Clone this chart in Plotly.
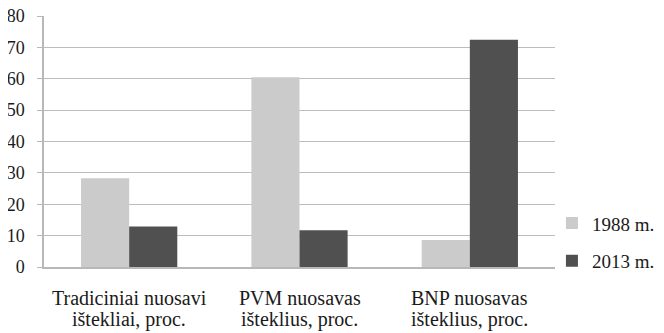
import plotly.graph_objects as go

categories = ["Tradiciniai nuosavi<br>ištekliai, proc.",
              "PVM nuosavas<br>išteklius, proc.",
              "BNP nuosavas<br>išteklius, proc."]
series_names = ["1988 m.", "2013 m."]
values_1988 = [28.3, 60.5, 8.6]
values_2013 = [12.9, 11.7, 72.4]
y_ticks = [0, 10, 20, 30, 40, 50, 60, 70, 80]

FONT = "Liberation Serif, Times New Roman, serif"
TXT = "#1a1a1a"

fig = go.Figure()
fig.add_trace(go.Bar(x=categories, y=values_1988, name=series_names[0],
                     marker=dict(color="#cbcbcb", line=dict(width=0)),
                     legendgroup="a"))
fig.add_trace(go.Bar(x=categories, y=values_2013, name=series_names[1],
                     marker=dict(color="#505050", line=dict(width=0)),
                     legendgroup="b"))

# category labels: two lines each, tighter line spacing than Plotly's default
annotations = []
for cat in categories:
    for i, line in enumerate(cat.split("<br>")):
        annotations.append(dict(
            x=cat, xref="x", y=0, yref="paper", yanchor="top",
            yshift=-18 - 21 * i, text=line, showarrow=False,
            font=dict(family=FONT, size=20, color=TXT)))

# the page body adds an 8px offset, so the figure is 8px smaller
fig.update_layout(
    width=656, height=325,
    margin=dict(l=36, r=109, t=8, b=66, autoexpand=False),
    paper_bgcolor="white", plot_bgcolor="white",
    font=dict(family=FONT, size=18, color=TXT),
    barmode="group", bargap=0.435, bargroupgap=0,
    showlegend=True,
    legend=dict(x=0.994, xanchor="left", y=0.25, yanchor="top",
                font=dict(family=FONT, size=19, color=TXT),
                tracegroupgap=10, itemwidth=30,
                bgcolor="rgba(0,0,0,0)"),
    annotations=annotations,
    xaxis=dict(showline=True, linecolor="#b8b8b8", linewidth=1.5,
               ticks="", showgrid=False, showticklabels=False,
               automargin=False),
    yaxis=dict(range=[0, 80], tickvals=y_ticks, showline=True,
               linecolor="#b8b8b8", linewidth=1.5,
               ticks="outside", ticklen=5, tickcolor="#b8b8b8",
               showgrid=True, gridcolor="#bdbdbd", gridwidth=1,
               zeroline=False, ticklabelstandoff=9, automargin=False,
               ticklabeloverflow="allow",
               tickfont=dict(family=FONT, size=18, color=TXT)),
)

fig.write_html("out.html")
